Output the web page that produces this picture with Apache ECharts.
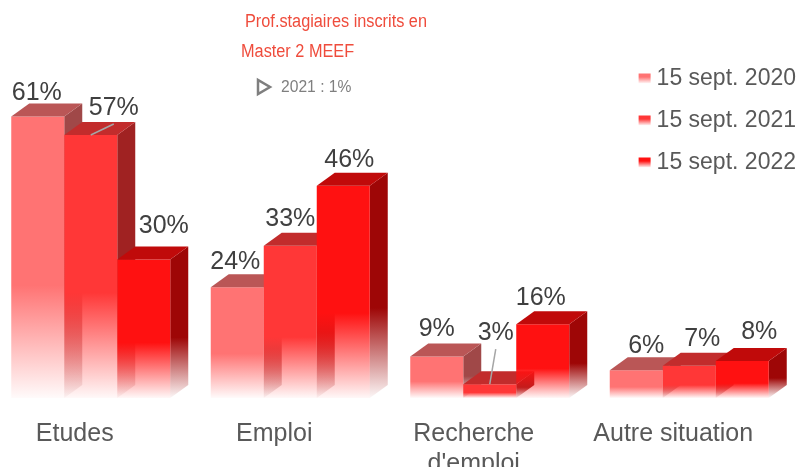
<!DOCTYPE html>
<html><head><meta charset="utf-8">
<script src="https://cdn.jsdelivr.net/npm/echarts@6/dist/echarts.min.js"></script>
<style>html,body{margin:0;padding:0;background:#fff}#c{width:798px;height:467px}</style>
</head><body><div id="c"></div>
<script>
// ---- data ----
const categories = ['Etudes', 'Emploi', "Recherche\nd'emploi", 'Autre situation'];
const seriesNames = ['15 sept. 2020', '15 sept. 2021', '15 sept. 2022'];
const values2020 = [61, 24, 9, 6];
const values2021 = [57, 33, 3, 7];
const values2022 = [30, 46, 16, 8];
const annotationLines = ['Prof.stagiaires inscrits en', 'Master 2 MEEF'];
const annotationValue = '2021 : 1%';

// ---- styles ----
const palette = [
  { front: [255, 115, 115], top: '#BA5656', side: [160, 72, 72] },
  { front: [255, 55, 55],   top: '#C22C2C', side: [160, 34, 34] },
  { front: [255, 17, 17],   top: '#C00A0A', side: [158, 6, 6] }
];
// per-label [dx, dy, leaderLine]
const labelAdjust = [
  [[-1, 4], [-2, 2], [0, 0], [10, 3]],
  [[23, 0, true], [0, 0], [6, -24, true], [13, 0]],
  [[20, -6], [6, 1], [-2, 1], [17, -2]]
];
const BANDPX = 199.5, BARPX = 53, DXPX = 18, OFFPX = 88.5, DY = 13;
const FONT = '"Liberation Sans", Arial, sans-serif';

function rgba(c, a) { return 'rgba(' + c[0] + ',' + c[1] + ',' + c[2] + ',' + a + ')'; }
function fadeGrad(c, start) {
  return new echarts.graphic.LinearGradient(0, 0, 0, 1, [
    { offset: 0, color: rgba(c, 1) },
    { offset: start, color: rgba(c, 1) },
    { offset: 1, color: rgba(c, 0.03) }
  ]);
}

function makeRender(s) {
  return function (params, api) {
    const ci = api.value(0), v = api.value(1);
    const t = api.coord([ci, v]), b = api.coord([ci, 0]);
    const band = api.size([1, 0])[0];
    const w = band * BARPX / BANDPX, dx = band * DXPX / BANDPX, dy = DY;
    const x0 = t[0] - band * OFFPX / BANDPX + s * w;
    const ty = t[1], by = b[1];
    const p = palette[s];
    const children = [
      { type: 'polygon', shape: { points: [[x0 + w, ty], [x0 + w + dx, ty - dy], [x0 + w + dx, by - dy], [x0 + w, by]] },
        style: { fill: fadeGrad(p.side, 0.6) } },
      { type: 'rect', shape: { x: x0, y: ty, width: w, height: by - ty },
        style: { fill: fadeGrad(p.front, 0.6) } },
      { type: 'polygon', shape: { points: [[x0, ty], [x0 + dx, ty - dy], [x0 + w + dx, ty - dy], [x0 + w, ty]] },
        style: { fill: p.top } }
    ];
    const adj = labelAdjust[s][params.dataIndex];
    const lx = x0 + w / 2 + adj[0], ly = ty - dy - 14 + adj[1];
    if (adj[2]) {
      children.push({ type: 'line', shape: { x1: x0 + w / 2, y1: ty, x2: lx, y2: ly + 16 },
        style: { stroke: '#A6A6A6', lineWidth: 1.5 } });
    }
    children.push({ type: 'text', style: { text: v + '%', x: lx, y: ly, align: 'center', verticalAlign: 'middle',
      font: '25px ' + FONT, fill: '#404040' } });
    return { type: 'group', children: children };
  };
}

const allValues = [values2020, values2021, values2022];
const series = allValues.map(function (vals, s) {
  return {
    type: 'custom', name: seriesNames[s], clip: false,
    renderItem: makeRender(s),
    encode: { x: 0, y: 1 },
    itemStyle: { color: fadeGrad(palette[s].front, 0.35) },
    data: vals.map(function (v, i) { return [i, v]; })
  };
});

const chart = echarts.init(document.getElementById('c'), null, { renderer: 'canvas' });
chart.setOption({
  animation: false,
  backgroundColor: '#fff',
  grid: { left: 0, right: 0, top: 75, bottom: 69, containLabel: false, outerBoundsMode: 'none' },
  xAxis: {
    type: 'category', data: categories,
    axisLine: { show: false }, axisTick: { show: false }, splitLine: { show: false },
    axisLabel: { interval: 0, fontSize: 25, fontFamily: FONT, color: '#595959', margin: 21, lineHeight: 30, padding: [0, 50, 0, 0] }
  },
  yAxis: { type: 'value', min: 0, max: 70, show: false },
  legend: {
    data: seriesNames, orient: 'vertical', right: 2, top: 67, padding: 0,
    icon: 'rect', itemWidth: 12, itemHeight: 10, itemGap: 19,
    textStyle: { fontSize: 23, fontFamily: FONT, color: '#595959', padding: [0, 0, 0, 1] }
  },
  graphic: [
    { type: 'text', x: 245, y: 22, scaleX: 0.905, style: { text: annotationLines[0], x: 0, y: 0, verticalAlign: 'middle', font: '18px ' + FONT, fill: '#EF4C3C' } },
    { type: 'text', x: 241, y: 52, scaleX: 0.905, style: { text: annotationLines[1], x: 0, y: 0, verticalAlign: 'middle', font: '18px ' + FONT, fill: '#EF4C3C' } },
    { type: 'polygon', shape: { points: [[258, 80], [258, 94], [270, 87]] }, style: { fill: 'none', stroke: '#7F7F7F', lineWidth: 2.5 } },
    { type: 'text', x: 281, y: 87, scaleX: 0.92, style: { text: annotationValue, x: 0, y: 0, verticalAlign: 'middle', font: '17px ' + FONT, fill: '#7F7F7F' } }
  ],
  series: series
});
</script>
</body></html>
